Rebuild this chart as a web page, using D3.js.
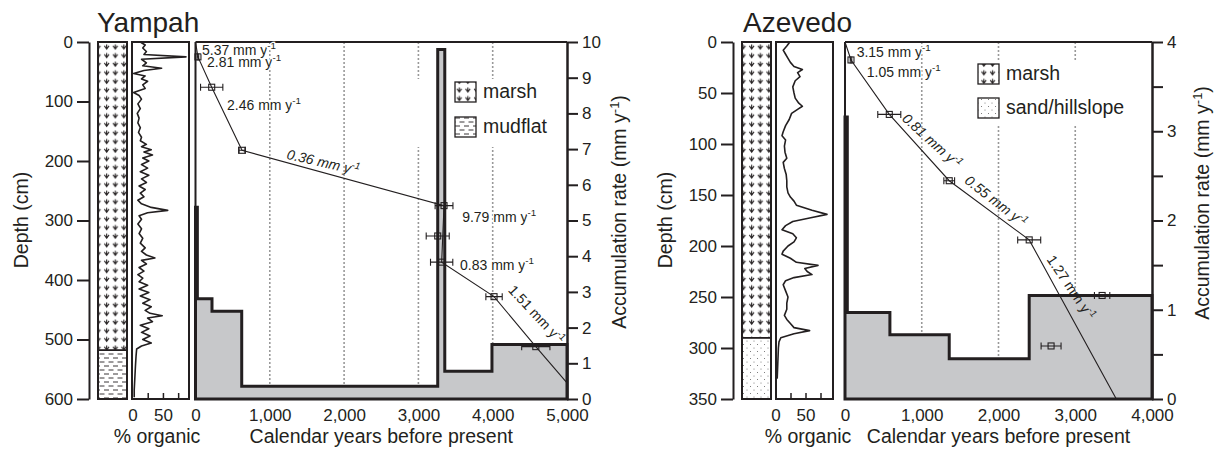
<!DOCTYPE html>
<html>
<head>
<meta charset="utf-8">
<script src="https://cdn.jsdelivr.net/npm/d3@7"></script>
<style>
  body { margin: 0; background: #fff; }
  text { font-family: "Liberation Sans", Arial, Helvetica, sans-serif; fill: #231f20; }
</style>
</head>
<body>
<svg id="chart" width="1215" height="454"></svg>
<script>
// ---------- Yampah data ----------
const yampahUnitTop = [0, 518];
const yampahUnitType = ["marsh", "mudflat"];
// [depth cm, % organic]
const yampahOrganic = [
  [0,12],[5,20],[10,16],[16,22],[21,18],[25,87],[29,14],[35,22],[40,16],[44,47],[48,18],[53,1],
  [57,20],[62,14],[66,24],[72,16],[78,20],[85,1],[90,10],[96,14],[104,8],[112,12],[120,7],[128,10],
  [136,8],[144,12],[152,9],[160,14],[166,12],[172,22],[176,14],[181,30],[185,18],[190,32],[195,16],
  [200,26],[206,14],[212,24],[218,12],[224,26],[230,14],[236,22],[242,10],[248,20],[254,12],[260,18],
  [266,8],[272,14],[278,30],[283,57],[287,24],[292,10],[298,14],[306,8],[314,14],[322,10],[330,16],
  [338,12],[346,20],[352,14],[358,22],[363,36],[367,14],[373,22],[379,10],[385,18],[391,8],[397,16],
  [403,10],[409,24],[415,10],[421,26],[427,12],[433,28],[439,16],[445,30],[451,20],[456,28],[460,48],
  [464,24],[470,32],[476,12],[482,26],[488,14],[494,28],[500,16],[506,30],[511,14],[516,6],[528,5],
  [545,4],[565,3],[585,2],[597,2]
];
// accumulation-rate steps (start year, mm/yr)
const yampahStepStart = [0, 25, 222, 622, 3260, 3355, 3990];
const yampahStepRate = [5.37, 2.81, 2.46, 0.36, 9.79, 0.78, 1.53];
// dated samples
const yampahAgeYear = [33, 218, 626, 3345, 3260, 3313, 4018, 4580];
const yampahAgeDepth = [25, 76, 182, 275, 326, 370, 428, 512];
const yampahAgeErr = [10, 150, 45, 120, 155, 150, 110, 190];
// age model [year, depth]
const yampahModel = [[0,0],[33,25],[218,76],[626,182],[3345,275],[3313,370],[4018,428],[4580,512],[5000,573]];
const yampahRateLabels = ["5.37", "2.81", "2.46", "0.36", "9.79", "0.83", "1.51"];

// ---------- Azevedo data ----------
const azevedoUnitTop = [0, 290];
const azevedoUnitType = ["marsh", "sand"];
const azevedoOrganic = [
  [0,23],[4,18],[8,12],[12,16],[16,20],[20,24],[24,30],[27,44],[30,36],[34,40],[38,32],[44,28],
  [50,30],[55,32],[60,38],[63,44],[66,36],[70,26],[76,22],[82,16],[88,12],[92,10],[96,16],[102,14],
  [108,15],[114,18],[118,12],[124,14],[130,17],[136,18],[142,18],[148,20],[152,24],[156,30],[160,34],
  [165,60],[169,85],[172,60],[176,28],[180,16],[184,10],[188,28],[192,34],[196,30],[200,20],[205,12],
  [208,10],[212,24],[216,34],[219,70],[222,48],[225,52],[228,60],[231,30],[234,16],[238,12],[244,16],
  [250,20],[256,18],[262,18],[268,14],[272,18],[276,24],[280,30],[283,56],[286,30],[290,8],[294,5],
  [300,4],[315,3],[330,2]
];
const azevedoStepStart = [0, 30, 585, 1358, 2400];
const azevedoStepRate = [3.16, 0.97, 0.72, 0.45, 1.16];
const azevedoAgeYear = [78, 577, 1358, 2400, 2685, 3350];
const azevedoAgeDepth = [17.6, 71, 136, 194, 298, 248.5];
const azevedoAgeErr = [10, 150, 70, 150, 130, 100];
const azevedoModel = [[0,0],[78,17.6],[577,71],[1358,136],[2400,194],[3535,350]];
const azevedoRateLabels = ["3.15", "1.05", "0.81", "0.55", "1.27"];

const legendNames = { marsh: "marsh", mudflat: "mudflat", sand: "sand/hillslope" };

// ---------- layout ----------
const TOP = 42, BOTTOM = 399;
const INK = "#231f20", GREY = "#c7c8ca";

const svg = d3.select("#chart");
const defs = svg.append("defs");

// lithology patterns
const marsh = defs.append("pattern").attr("id", "marsh")
  .attr("patternUnits", "userSpaceOnUse").attr("width", 8.6).attr("height", 8.6);
marsh.append("path").attr("d", "M1.2,2.8 L3.5,6 L5.8,2.8 M3.5,1.4 V6")
  .attr("fill", "none").attr("stroke", INK).attr("stroke-width", 1.1);

const mud = defs.append("pattern").attr("id", "mudflat")
  .attr("patternUnits", "userSpaceOnUse").attr("width", 9).attr("height", 8);
mud.append("path").attr("d", "M0.5,2 H5.5 M5,6 H9 M0,6 H1")
  .attr("fill", "none").attr("stroke", INK).attr("stroke-width", 0.9);

const sand = defs.append("pattern").attr("id", "sand")
  .attr("patternUnits", "userSpaceOnUse").attr("width", 7).attr("height", 7);
sand.append("circle").attr("cx", 1.5).attr("cy", 1.5).attr("r", 0.5).attr("fill", "#555");
sand.append("circle").attr("cx", 5).attr("cy", 5).attr("r", 0.5).attr("fill", "#555");

function rateText(sel, value, size) {
  sel.append("tspan").text(value + " mm y");
  sel.append("tspan").attr("dy", -size * 0.4).attr("font-size", size * 0.7).text("-1");
}

function drawSite(s) {
  const g = svg.append("g");
  const depth = d3.scaleLinear().domain([0, s.maxDepth]).range([TOP, BOTTOM]);
  const org = d3.scaleLinear().domain([0, s.orgMax]).range([s.orgZero, s.orgX1]);
  const yr = d3.scaleLinear().domain([0, s.maxYear]).range([s.plotX0, s.plotX1]);
  const rate = d3.scaleLinear().domain([0, s.maxRate]).range([BOTTOM, TOP]);

  g.append("text").attr("x", s.titleX).attr("y", 32).attr("font-size", 28).text(s.name);

  // depth axis
  const dAxis = g.append("g").attr("transform", `translate(${s.depthAxisX},0)`)
    .call(d3.axisLeft(depth).tickValues(s.depthTicks).tickSize(12).tickSizeOuter(0).tickPadding(4))
    .attr("font-size", 17).attr("font-family", null);
  dAxis.select(".domain").attr("stroke", INK).attr("stroke-width", 2);
  dAxis.selectAll(".tick line").attr("stroke", INK).attr("stroke-width", 2);

  g.append("text")
    .attr("transform", `translate(${s.depthLabelX},220) rotate(-90)`)
    .attr("text-anchor", "middle").attr("font-size", 19.5).text("Depth (cm)");

  // lithology column
  s.unitTop.forEach((t, i) => {
    const b = i + 1 < s.unitTop.length ? s.unitTop[i + 1] : s.maxDepth;
    g.append("rect").attr("x", s.stratX0).attr("y", depth(t))
      .attr("width", s.stratX1 - s.stratX0).attr("height", depth(b) - depth(t))
      .attr("fill", `url(#${s.unitType[i]})`).attr("stroke", INK).attr("stroke-width", 1.5);
  });
  g.append("rect").attr("x", s.stratX0).attr("y", TOP)
    .attr("width", s.stratX1 - s.stratX0).attr("height", BOTTOM - TOP)
    .attr("fill", "none").attr("stroke", INK).attr("stroke-width", 2);

  // organic content
  g.append("rect").attr("x", s.orgX0).attr("y", TOP)
    .attr("width", s.orgX1 - s.orgX0).attr("height", BOTTOM - TOP)
    .attr("fill", "none").attr("stroke", INK).attr("stroke-width", 2);
  g.append("path").datum(s.organic)
    .attr("d", d3.line().x(d => org(d[1])).y(d => depth(d[0])))
    .attr("fill", "none").attr("stroke", INK).attr("stroke-width", 1.6).attr("stroke-linejoin", "round");
  [25, 50, 75].forEach(v => {
    g.append("line").attr("x1", org(v)).attr("x2", org(v))
      .attr("y1", BOTTOM).attr("y2", BOTTOM - 6).attr("stroke", INK).attr("stroke-width", 1.5);
  });
  [0, 50].forEach(v => {
    g.append("text").attr("x", org(v)).attr("y", 421).attr("text-anchor", "middle")
      .attr("font-size", 17).text(v);
  });
  g.append("text").attr("x", s.orgLabelX).attr("y", 443).attr("text-anchor", "middle")
    .attr("font-size", 19.5).text("% organic");

  // main plot: grid
  s.yearTicks.filter(v => v > 0 && v < s.maxYear).forEach(v => {
    g.append("line").attr("x1", yr(v)).attr("x2", yr(v)).attr("y1", TOP).attr("y2", BOTTOM)
      .attr("stroke", "#999").attr("stroke-width", 1.6).attr("stroke-dasharray", "2,2");
  });
  g.append("rect").attr("x", s.legendBg[0]).attr("y", s.legendBg[1])
    .attr("width", s.legendBg[2]).attr("height", s.legendBg[3]).attr("fill", "#fff");

  // accumulation-rate steps
  const steps = s.stepStart.map((t, i) => [t, s.stepRate[i]]);
  steps.push([s.maxYear, s.stepRate[s.stepRate.length - 1]]);
  g.append("path").datum(steps)
    .attr("d", d3.area().curve(d3.curveStepAfter).x(d => yr(d[0])).y0(rate(0)).y1(d => rate(d[1])))
    .attr("fill", GREY).attr("stroke", INK).attr("stroke-width", 3).attr("stroke-linejoin", "miter");

  // frame
  g.append("line").attr("x1", s.plotX0).attr("x2", s.plotX1).attr("y1", TOP).attr("y2", TOP)
    .attr("stroke", INK).attr("stroke-width", 1.8);
  g.append("line").attr("x1", s.plotX0).attr("x2", s.plotX0).attr("y1", TOP).attr("y2", BOTTOM)
    .attr("stroke", INK).attr("stroke-width", 2);

  const rAxis = g.append("g").attr("transform", `translate(${s.plotX1},0)`)
    .call(d3.axisRight(rate).tickValues(s.rateTicks).tickSize(11).tickSizeOuter(0).tickPadding(4)
      .tickFormat(d => Number.isInteger(d) ? d : ""))
    .attr("font-size", 17).attr("font-family", null);
  rAxis.select(".domain").attr("stroke", INK).attr("stroke-width", 2.5);
  rAxis.selectAll(".tick line").attr("stroke", INK).attr("stroke-width", 2);

  const rl = g.append("text")
    .attr("transform", `translate(${s.rateLabelX},${s.rateLabelY}) rotate(-90)`)
    .attr("text-anchor", "middle").attr("font-size", 19.5);
  rl.append("tspan").text("Accumulation rate (mm y");
  rl.append("tspan").attr("dy", -7).attr("font-size", 13).text("-1");
  rl.append("tspan").attr("dy", 7).text(")");

  const xAxis = g.append("g").attr("transform", `translate(0,${BOTTOM})`)
    .call(d3.axisBottom(yr).tickValues(s.yearTicks).tickSize(0).tickPadding(10).tickFormat(d3.format(",")))
    .attr("font-size", 17).attr("font-family", null);
  xAxis.select(".domain").remove();
  g.append("text").attr("x", (s.plotX0 + s.plotX1) / 2).attr("y", 443).attr("text-anchor", "middle")
    .attr("font-size", 19.5).text("Calendar years before present");

  // age model
  g.append("path").datum(s.model)
    .attr("d", d3.line().x(d => yr(d[0])).y(d => depth(d[1])))
    .attr("fill", "none").attr("stroke", INK).attr("stroke-width", 1.1);

  s.ageYear.forEach((a, i) => {
    const y = depth(s.ageDepth[i]);
    const x0 = yr(a - s.ageErr[i]), x1 = yr(a + s.ageErr[i]);
    g.append("path").attr("d", `M${x0},${y}H${x1}M${x0},${y - 3.5}V${y + 3.5}M${x1},${y - 3.5}V${y + 3.5}`)
      .attr("fill", "none").attr("stroke", INK).attr("stroke-width", 1.1);
    g.append("rect").attr("x", yr(a) - 3).attr("y", y - 3).attr("width", 6).attr("height", 6)
      .attr("fill", "none").attr("stroke", INK).attr("stroke-width", 1.1);
  });

  // rate annotations
  s.labels.forEach(l => {
    const t = g.append("text").attr("font-size", 14);
    if (l.italic) t.attr("font-style", "italic");
    if (l.angle !== undefined) {
      t.attr("transform", `translate(${yr(l.yr)},${depth(l.dep)}) rotate(${l.angle})`)
        .attr("text-anchor", "middle").attr("dy", "0.35em");
    } else {
      t.attr("x", yr(l.yr)).attr("y", depth(l.dep))
        .attr("stroke", "#fff").attr("stroke-width", 2.5).attr("paint-order", "stroke");
    }
    rateText(t, s.rateLabels[l.i], 14);
  });

  // legend
  s.legendTypes.forEach((type, i) => {
    g.append("rect").attr("x", s.legendX).attr("y", s.legendY[i]).attr("width", 21).attr("height", 20)
      .attr("fill", `url(#${type})`).attr("stroke", INK).attr("stroke-width", 1.3);
    g.append("text").attr("x", s.legendX + 28).attr("y", s.legendY[i] + 16)
      .attr("font-size", 19.5).text(legendNames[type]);
  });
}

drawSite({
  name: "Yampah", titleX: 97,
  depthAxisX: 89, maxDepth: 600, depthTicks: d3.range(0, 601, 100), depthLabelX: 28,
  stratX0: 98, stratX1: 127, unitTop: yampahUnitTop, unitType: yampahUnitType,
  orgX0: 132, orgX1: 189, orgZero: 133, orgMax: 92, orgLabelX: 157, organic: yampahOrganic,
  plotX0: 195.5, plotX1: 567, maxYear: 5000, yearTicks: d3.range(0, 5001, 1000),
  maxRate: 10, rateTicks: d3.range(0, 11, 1), rateLabelX: 626, rateLabelY: 212,
  stepStart: yampahStepStart, stepRate: yampahStepRate,
  ageYear: yampahAgeYear, ageDepth: yampahAgeDepth, ageErr: yampahAgeErr, model: yampahModel,
  rateLabels: yampahRateLabels,
  labels: [
    { i: 0, yr: 87, dep: 22 },
    { i: 1, yr: 155, dep: 42 },
    { i: 2, yr: 424, dep: 114 },
    { i: 3, yr: 1720, dep: 202, angle: 13, italic: true },
    { i: 4, yr: 3589, dep: 302 },
    { i: 5, yr: 3560, dep: 383 },
    { i: 6, yr: 4589, dep: 458, angle: 47 }
  ],
  legendBg: [410, 79, 145, 68], legendX: 455, legendY: [82, 117], legendTypes: ["marsh", "mudflat"]
});

drawSite({
  name: "Azevedo", titleX: 743,
  depthAxisX: 733, maxDepth: 350, depthTicks: d3.range(0, 351, 50), depthLabelX: 672,
  stratX0: 742, stratX1: 771, unitTop: azevedoUnitTop, unitType: azevedoUnitType,
  orgX0: 776, orgX1: 833, orgZero: 776, orgMax: 95, orgLabelX: 808, organic: azevedoOrganic,
  plotX0: 845, plotX1: 1152, maxYear: 4000, yearTicks: d3.range(0, 4001, 1000),
  maxRate: 4, rateTicks: d3.range(0, 4.01, 0.5), rateLabelX: 1209, rateLabelY: 203,
  stepStart: azevedoStepStart, stepRate: azevedoStepRate,
  ageYear: azevedoAgeYear, ageDepth: azevedoAgeDepth, ageErr: azevedoAgeErr, model: azevedoModel,
  rateLabels: azevedoRateLabels,
  labels: [
    { i: 0, yr: 152, dep: 14.7 },
    { i: 1, yr: 283, dep: 34 },
    { i: 2, yr: 1133, dep: 97, angle: 42, italic: true },
    { i: 3, yr: 1966, dep: 156, angle: 38, italic: true },
    { i: 4, yr: 2945, dep: 240.7, angle: 56 }
  ],
  legendBg: [970, 60, 158, 64], legendX: 978, legendY: [64, 98], legendTypes: ["marsh", "sand"]
});
</script>
</body>
</html>
